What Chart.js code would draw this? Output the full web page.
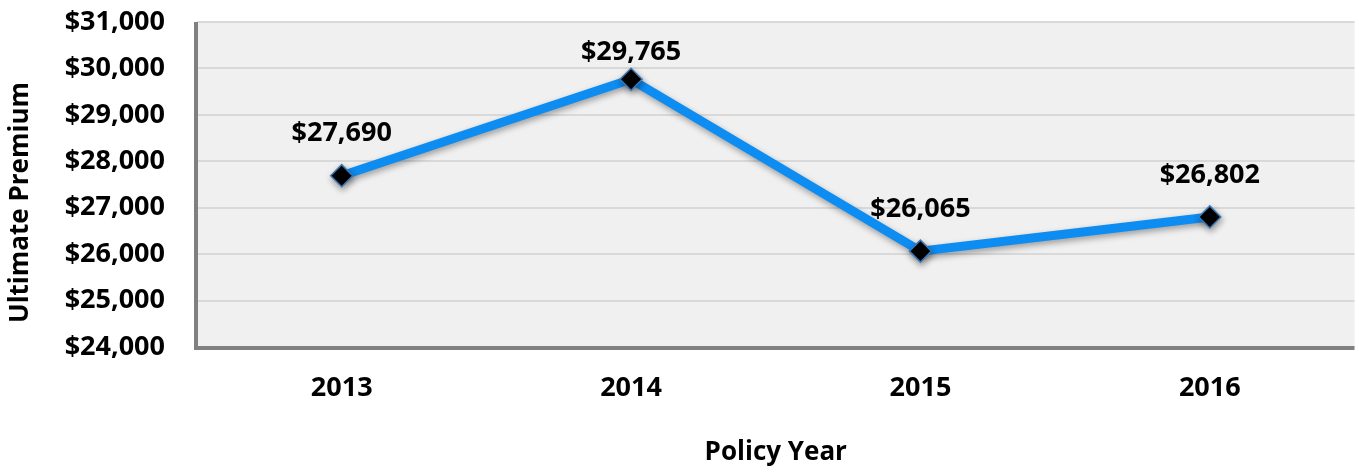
<!DOCTYPE html>
<html><head><meta charset="utf-8">
<script src="https://cdn.jsdelivr.net/npm/chart.js@4/dist/chart.umd.min.js"></script>
<style>html,body{margin:0;padding:0;background:#fff;overflow:hidden}#w{width:1359px;height:472px;overflow:hidden}</style>
</head><body><div id="w"><canvas id="c" width="1367" height="472"></canvas></div>
<script>
const categories = ["2013", "2014", "2015", "2016"];
const premiums = [27690, 29765, 26065, 26802];
const yMin = 24000, yMax = 31000, yStep = 1000;
const xTitle = "Policy Year";
const yTitle = "Ultimate Premium";

const FONT = "'Open Sans', Lato, sans-serif";
const FS = 27;
const money = v => "$" + v.toLocaleString("en-US");

const bgPlugin = {
  id: "bg",
  beforeDraw(chart) {
    const {ctx, chartArea: a} = chart;
    ctx.save();
    ctx.fillStyle = "#f0f0f0";
    ctx.fillRect(a.left, a.top, a.right - a.left, a.bottom - a.top);
    ctx.restore();
  }
};
const axisPlugin = {
  id: "axisLines",
  beforeDatasetsDraw(chart) {
    const {ctx, chartArea: a} = chart;
    ctx.save();
    ctx.strokeStyle = "#808080";
    ctx.lineWidth = 4;
    ctx.beginPath();
    ctx.moveTo(a.left - 1, a.top);
    ctx.lineTo(a.left - 1, a.bottom + 1);
    ctx.lineTo(a.right, a.bottom + 1);
    ctx.stroke();
    ctx.restore();
  }
};
const shadowPlugin = {
  id: "shadow",
  beforeDatasetDraw(chart) {
    const ctx = chart.ctx;
    ctx.save();
    ctx.shadowColor = "rgba(0,0,0,0.35)";
    ctx.shadowBlur = 6;
    ctx.shadowOffsetX = 1;
    ctx.shadowOffsetY = 3;
  },
  afterDatasetDraw(chart) { chart.ctx.restore(); }
};
const labelPlugin = {
  id: "labels",
  afterDatasetsDraw(chart) {
    const {ctx} = chart;
    const meta = chart.getDatasetMeta(0);
    ctx.save();
    ctx.font = "bold " + FS + "px " + FONT;
    ctx.fillStyle = "#000";
    ctx.textAlign = "center";
    ctx.textBaseline = "middle";
    meta.data.forEach((pt, i) => {
      const y = Math.max(pt.y - 42, chart.chartArea.top + 30);
      ctx.fillText(money(chart.data.datasets[0].data[i]), pt.x, y);
    });
    ctx.restore();
  },
  afterDraw(chart) {
    const {ctx, chartArea: a} = chart;
    ctx.save();
    ctx.font = "bold 26px " + FONT;
    ctx.fillStyle = "#000";
    ctx.textAlign = "center";
    ctx.textBaseline = "middle";
    ctx.translate(21, (a.top + a.bottom) / 2 + 18);
    ctx.rotate(-Math.PI / 2);
    ctx.fillText(yTitle, 0, 0);
    ctx.restore();
  }
};

new Chart(document.getElementById("c"), {
  type: "line",
  data: {
    labels: categories,
    datasets: [{
      data: premiums,
      borderColor: "#0d8cf2",
      borderWidth: 9,
      tension: 0,
      pointStyle: "rectRot",
      pointRadius: 11,
      pointHoverRadius: 11,
      pointBackgroundColor: "#000",
      pointBorderColor: "#3a78b8",
      pointBorderWidth: 1.5
    }]
  },
  options: {
    responsive: false,
    animation: false,
    layout: {padding: {top: 22, right: 0, left: 0, bottom: 0}},
    plugins: {legend: {display: false}, tooltip: {enabled: false}},
    scales: {
      x: {
        offset: true,
        grid: {display: false, drawTicks: false},
        border: {display: false},
        ticks: {color: "#000", font: {family: FONT, size: FS, weight: "bold"}, padding: 25},
        title: {display: true, text: xTitle, color: "#000", font: {family: FONT, size: 26, weight: "bold"}, padding: {top: 30}},
        afterFit(s) { s.height = 125; s.paddingLeft = 0; s.paddingRight = 0; }
      },
      y: {
        min: yMin, max: yMax,
        grid: {color: "#d9d9d9", lineWidth: 2, drawTicks: false},
        border: {display: false},
        ticks: {stepSize: yStep, color: "#000", font: {family: FONT, size: FS, weight: "bold"}, padding: 32, callback: v => money(v)},
        title: {display: false},
        afterFit(s) { s.width = 197; s.paddingTop = 0; s.paddingBottom = 0; }
      }
    }
  },
  plugins: [bgPlugin, axisPlugin, shadowPlugin, labelPlugin]
});
</script></body></html>
